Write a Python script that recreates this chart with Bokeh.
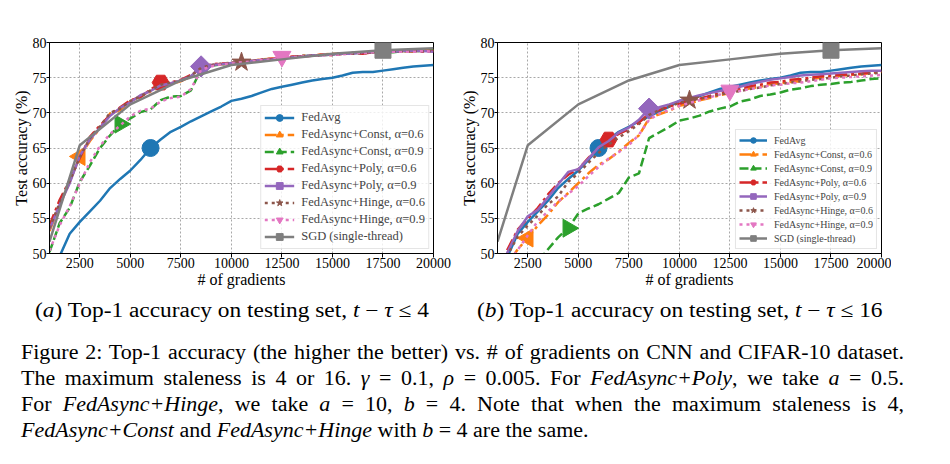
import math
from bokeh.plotting import figure
from bokeh.models import Range1d, FixedTicker, Legend, LegendItem, Div
from bokeh.layouts import column, row
from bokeh.embed import file_html
from bokeh.resources import INLINE

# ---------------- data ----------------
X_STEPS = [1000, 1500, 2000, 2500, 3000, 3500, 4000, 4500, 5000, 5500,
           6000, 6500, 7000, 7500, 8000, 8500, 9000, 9500, 10000, 10500,
           11000, 11500, 12000, 12500, 13000, 13500, 14000, 14500, 15000, 15500,
           16000, 16500, 17000, 17500, 18000, 18500, 19000, 19500, 20000]
X_TICKS = [2500, 5000, 7500, 10000, 12500, 15000, 17500, 20000]
Y_TICKS = [50, 55, 60, 65, 70, 75, 80]

SGD_X = [1000, 2500, 5000, 7500, 10000, 12500, 15000, 17500, 20000]
SGD_Y = [51.7, 65.4, 71.2, 74.6, 76.8, 77.6, 78.4, 78.9, 79.2]

FEDAVG = [47.2, 49.6, 52.8, 54.5, 56.0, 57.5, 59.3, 60.6, 61.8, 63.3,
          65.0, 66.2, 67.3, 68.0, 68.8, 69.5, 70.2, 70.9, 71.7, 72.0,
          72.4, 72.9, 73.4, 73.7, 74.0, 74.3, 74.6, 74.8, 75.0, 75.3,
          75.7, 75.8, 75.8, 76.0, 76.2, 76.4, 76.6, 76.7, 76.8]

# panel (a): max staleness 4
A_CONST06 = [53.2, 56.8, 60.2, 63.8, 66.0, 67.8, 69.9, 70.4, 71.6, 72.4,
             73.0, 73.8, 74.1, 74.5, 75.2, 76.1, 76.7, 76.9, 77.0, 77.2,
             77.4, 77.6, 77.7, 77.8, 77.9, 78.1, 78.1, 78.3, 78.4, 78.4,
             78.5, 78.6, 78.6, 78.7, 78.8, 78.8, 78.7, 78.9, 78.9]
A_CONST09 = [50.2, 54.3, 56.5, 60.2, 62.5, 65.0, 66.8, 68.4, 69.2, 70.1,
             70.5, 71.8, 72.3, 72.4, 73.2, 76.2, 76.7, 76.9, 77.0, 77.1,
             77.3, 77.5, 77.6, 77.8, 77.9, 78.0, 78.2, 78.2, 78.3, 78.4,
             78.5, 78.5, 78.6, 78.7, 78.6, 78.8, 78.8, 78.8, 78.9]
A_POLY06 = [54.0, 57.6, 60.4, 63.6, 66.6, 68.2, 69.7, 70.8, 71.8, 72.2,
            73.3, 74.3, 74.3, 74.7, 75.4, 76.2, 76.9, 77.0, 77.1, 77.3,
            77.3, 77.6, 77.7, 77.7, 78.0, 78.0, 78.1, 78.3, 78.2, 78.4,
            78.5, 78.4, 78.6, 78.6, 78.7, 78.8, 78.8, 78.7, 78.8]
A_POLY09 = [53.4, 56.9, 60.0, 63.9, 66.2, 67.9, 69.6, 70.7, 71.5, 72.5,
            73.1, 73.9, 74.2, 74.6, 75.2, 76.6, 76.8, 76.9, 77.1, 77.2,
            77.4, 77.5, 77.6, 77.8, 77.9, 78.0, 78.2, 78.2, 78.3, 78.4,
            78.4, 78.6, 78.6, 78.7, 78.7, 78.8, 78.8, 78.8, 78.7]
A_HINGE06 = [53.6, 57.2, 60.3, 63.7, 66.4, 68.1, 70.0, 70.6, 71.7, 72.3,
             73.2, 74.0, 74.3, 74.5, 75.3, 76.4, 76.8, 77.0, 77.1, 77.2,
             77.4, 77.5, 77.7, 77.8, 77.9, 78.1, 78.1, 78.2, 78.3, 78.5,
             78.4, 78.5, 78.6, 78.7, 78.8, 78.7, 78.8, 78.8, 78.8]
A_HINGE09 = [50.4, 54.0, 56.7, 60.0, 63.0, 65.3, 67.0, 68.2, 69.5, 70.3,
             70.6, 71.6, 72.1, 72.3, 73.4, 76.1, 76.6, 76.9, 77.0, 77.2,
             77.3, 77.5, 77.6, 78.0, 77.9, 78.0, 78.1, 78.2, 78.3, 78.3,
             78.5, 78.5, 78.6, 78.6, 78.7, 78.7, 78.7, 78.8, 78.7]

# panel (b): max staleness 16
B_CONST06 = [46.5, 48.5, 50.6, 52.2, 54.0, 55.5, 57.3, 58.6, 60.0, 61.4,
             62.6, 63.4, 64.5, 65.7, 66.8, 69.2, 69.8, 70.3, 71.0, 71.3,
             71.8, 72.1, 72.5, 72.8, 73.2, 73.5, 73.7, 74.1, 74.2, 74.4,
             74.5, 74.8, 75.0, 75.1, 75.3, 75.4, 75.5, 75.7, 75.8]
B_CONST09 = [42.0, 43.5, 45.5, 47.0, 48.8, 50.6, 52.3, 53.6, 55.7, 56.4,
             57.0, 57.8, 58.6, 60.8, 61.4, 66.4, 67.2, 68.0, 68.9, 69.2,
             69.6, 70.2, 70.6, 70.9, 71.6, 71.9, 72.4, 72.6, 72.9, 73.3,
             73.5, 73.8, 74.0, 74.1, 74.3, 74.4, 74.6, 74.8, 74.9]
B_POLY06 = [47.5, 50.6, 53.4, 55.0, 56.5, 58.4, 60.0, 61.2, 62.0, 63.6,
            65.0, 66.2, 67.0, 67.7, 68.6, 69.9, 70.4, 70.9, 71.3, 71.7,
            72.0, 72.4, 72.8, 73.1, 73.4, 73.8, 74.0, 74.3, 74.4, 74.7,
            74.8, 75.0, 75.2, 75.3, 75.4, 75.5, 75.6, 75.7, 75.8]
B_POLY09 = [47.0, 50.2, 53.2, 55.3, 56.2, 58.0, 59.8, 61.6, 62.0, 63.5,
            65.1, 66.0, 67.2, 67.9, 69.0, 70.6, 70.8, 71.2, 71.7, 72.1,
            72.5, 72.8, 73.1, 73.4, 73.7, 74.1, 74.4, 74.7, 74.9, 75.1,
            75.3, 75.4, 75.5, 75.6, 75.7, 75.8, 75.9, 76.0, 76.0]
B_HINGE06 = [46.8, 49.8, 52.4, 54.0, 55.4, 57.0, 58.1, 60.2, 61.4, 62.9,
             64.3, 65.5, 66.5, 67.4, 68.4, 69.7, 70.4, 70.9, 71.4, 71.8,
             72.0, 72.3, 72.6, 72.9, 73.1, 73.4, 73.6, 73.9, 74.1, 74.3,
             74.5, 74.7, 74.8, 75.0, 75.2, 75.3, 75.5, 75.6, 75.7]
B_HINGE09 = [45.5, 48.6, 50.5, 52.6, 54.6, 56.0, 57.4, 58.5, 59.6, 61.0,
             62.3, 63.5, 64.4, 65.4, 66.9, 69.0, 69.9, 70.4, 71.0, 71.4,
             71.8, 72.2, 72.6, 73.2, 73.1, 73.4, 73.6, 73.9, 74.0, 74.2,
             74.3, 74.5, 74.7, 74.9, 75.0, 75.1, 75.2, 75.3, 75.4]

LABELS = ["FedAvg", "FedAsync+Const, \u03b1=0.6", "FedAsync+Const, \u03b1=0.9",
          "FedAsync+Poly, \u03b1=0.6", "FedAsync+Poly, \u03b1=0.9",
          "FedAsync+Hinge, \u03b1=0.6", "FedAsync+Hinge, \u03b1=0.9",
          "SGD (single-thread)"]
MARK_X = [6000, 2500, 4500, 6500, 8500, 10500, 12500, 17500]

# ---------------- styles ----------------
COLORS = ["#1f77b4", "#ff7f0e", "#2ca02c", "#d62728", "#9467bd",
          "#8c564b", "#e377c2", "#7f7f7f"]
DASHES = ["solid", "12 4 3 4", "9 4", "12 4 3 4", "solid", "3 4", "3 4", "solid"]
MARKERS = ["circle", "triangle", "triangle", "hex", "square", "star",
           "inverted_triangle", "square"]
ANGLES = [0, math.pi / 2, -math.pi / 2, 0, math.pi / 4, 0, 0, 0]
SIZES = [17, 18, 18, 17, 15, 20, 18, 16]
FONT = "Liberation Serif"


def make_panel(series, leg_font, leg_glyph_h, leg_glyph_w, leg_margin, left_border, right_border):
    p = figure(frame_width=384, frame_height=211,
               min_border_left=left_border, min_border_right=right_border,
               min_border_top=42, min_border_bottom=36,
               x_range=Range1d(1000, 20000), y_range=Range1d(50, 80),
               output_backend="svg", toolbar_location=None)
    p.outline_line_color = "black"
    p.outline_line_width = 1
    p.outline_line_alpha = 1
    p.xaxis.ticker = FixedTicker(ticks=X_TICKS)
    p.yaxis.ticker = FixedTicker(ticks=Y_TICKS)
    for ax in (p.xaxis[0], p.yaxis[0]):
        ax.axis_line_color = "black"
        ax.major_tick_line_color = "black"
        ax.major_tick_in = 0
        ax.minor_tick_line_color = None
        ax.major_label_text_font = FONT
        ax.major_label_text_font_size = "14px"
        ax.major_label_text_color = "black"
        ax.axis_label_text_font = FONT
        ax.axis_label_text_font_size = "16px"
        ax.axis_label_text_font_style = "normal"
        ax.axis_label_text_color = "black"
    p.xaxis.major_tick_out = 4
    p.yaxis.major_tick_out = 3
    p.xaxis.axis_label = "# of gradients"
    p.yaxis.axis_label = "Test accuracy (%)"
    p.xaxis.major_label_standoff = 0
    p.yaxis.major_label_standoff = 0
    p.xaxis.axis_label_standoff = 0
    p.yaxis.axis_label_standoff = 0
    p.grid.grid_line_color = "#a8a8a8"
    p.grid.grid_line_dash = "2 2"
    p.grid.grid_line_width = 1

    items = []
    for i, (xs, ys) in enumerate(series):
        lr = p.line(xs, ys, line_color=COLORS[i], line_width=2.5,
                    line_dash=DASHES[i])
        mx = MARK_X[i]
        my = ys[xs.index(mx)]
        sr = p.scatter([mx], [my], marker=MARKERS[i], size=SIZES[i],
                       angle=ANGLES[i], fill_color=COLORS[i],
                       line_color=COLORS[i])
        items.append(LegendItem(label=LABELS[i], renderers=[lr, sr]))

    leg = Legend(items=items, location="bottom_right", margin=leg_margin,
                 padding=3, spacing=0, glyph_width=leg_glyph_w, glyph_height=leg_glyph_h,
                 label_height=leg_glyph_h, label_standoff=7,
                 label_text_font=FONT, label_text_font_size=leg_font,
                 border_line_color="#cccccc", border_line_width=1,
                 background_fill_alpha=0.8)
    p.add_layout(leg)
    return p


series_a = [(X_STEPS, FEDAVG), (X_STEPS, A_CONST06), (X_STEPS, A_CONST09),
            (X_STEPS, A_POLY06), (X_STEPS, A_POLY09), (X_STEPS, A_HINGE06),
            (X_STEPS, A_HINGE09), (SGD_X, SGD_Y)]
series_b = [(X_STEPS, FEDAVG), (X_STEPS, B_CONST06), (X_STEPS, B_CONST09),
            (X_STEPS, B_POLY06), (X_STEPS, B_POLY09), (X_STEPS, B_HINGE06),
            (X_STEPS, B_HINGE09), (SGD_X, SGD_Y)]

p1 = make_panel(series_a, "12.5px", 17, 30, 4, 49, 22)
p2 = make_panel(series_b, "10px", 14, 28, 4, 42, 10)

SUB_A = "(<i>a</i>) Top-1 accuracy on testing set, <i>t</i> \u2212 <i>\u03c4</i> \u2264 4"
SUB_B = "(<i>b</i>) Top-1 accuracy on testing set, <i>t</i> \u2212 <i>\u03c4</i> \u2264 16"

SUB_STYLE = ("position:absolute;top:7px;white-space:nowrap;transform:scaleX(1.14);"
             "transform-origin:0 0;")
sub_html = (
    "<div style=\"position:relative;width:934px;height:30px;font-family:'Liberation Serif';"
    "font-size:20.5px;line-height:26px;color:#000;\">"
    "<div style=\"" + SUB_STYLE + "left:35px;\">" + SUB_A + "</div>"
    "<div style=\"" + SUB_STYLE + "left:477px;\">" + SUB_B + "</div>"
    "</div>")
div_sub = Div(text=sub_html, width=934, height=30, margin=0)

CAPTION_LINES = [
    "Figure 2: Top-1 accuracy (the higher the better) vs. # of gradients on CNN and CIFAR-10 dataset.",
    "The maximum staleness is 4 or 16. <i>\u03b3</i> = 0.1, <i>\u03c1</i> = 0.005. For <i>FedAsync+Poly</i>, we take <i>a</i> = 0.5.",
    "For <i>FedAsync+Hinge</i>, we take <i>a</i> = 10, <i>b</i> = 4. Note that when the maximum staleness is 4,",
    "<i>FedAsync+Const</i> and <i>FedAsync+Hinge</i> with <i>b</i> = 4 are the same.",
]
cap_parts = []
for k, line in enumerate(CAPTION_LINES):
    just = "justify" if k < len(CAPTION_LINES) - 1 else "left"
    cap_parts.append("<div style=\"text-align:justify;text-align-last:%s;white-space:nowrap;\">%s</div>"
                     % (just, line))
SCALE = 1.1
cap_html = ("<div style=\"margin-left:21px;margin-top:19px;width:%.1fpx;font-family:'Liberation Serif';"
            "font-size:20px;line-height:26px;color:#000;transform:scaleX(%.2f);transform-origin:0 0;\">"
            % (883 / SCALE, SCALE) + "".join(cap_parts) + "</div>")
div_cap = Div(text=cap_html, width=934, height=130, margin=0)

layout = column(row(p1, p2), div_sub, div_cap)

with open("out.html", "w") as f:
    f.write(file_html(layout, INLINE))
